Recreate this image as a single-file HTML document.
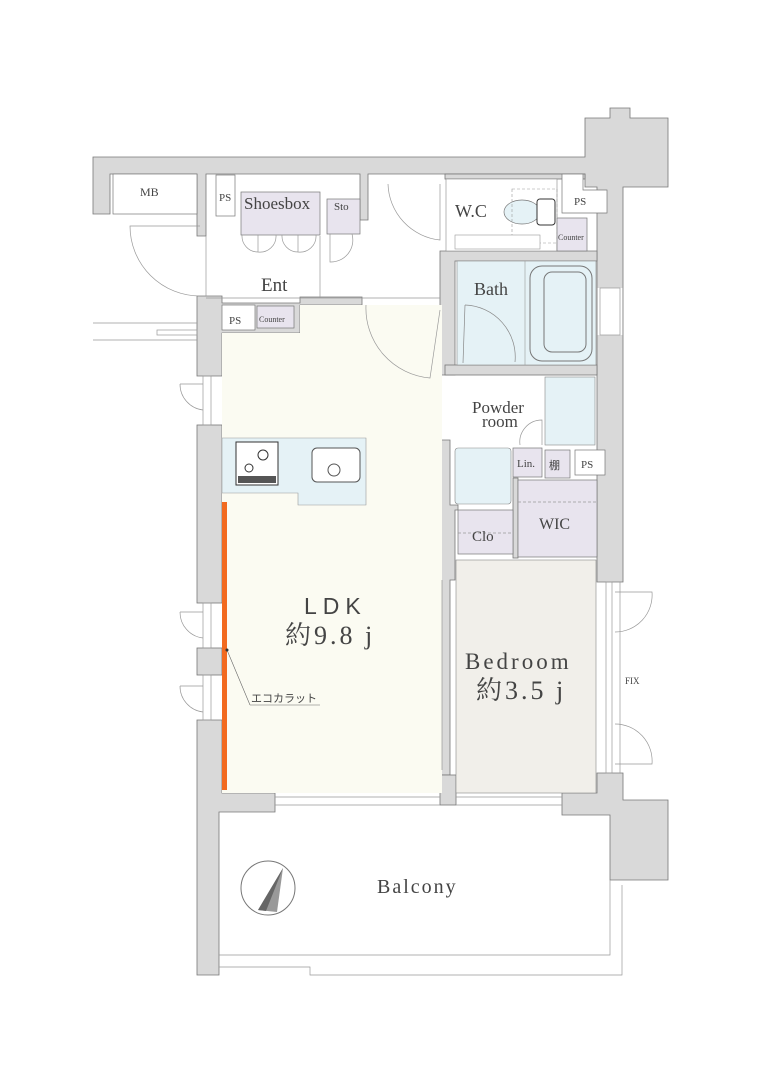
<!DOCTYPE html>
<html><head><meta charset="utf-8"><style>
html,body{margin:0;padding:0;background:#fff;}
svg{display:block;}
text{font-family:"Liberation Serif","Noto Serif CJK SC",serif;fill:#444;}
.s{font-family:"Liberation Sans","Noto Sans CJK JP",sans-serif;}
</style></head><body>
<svg width="768" height="1086" viewBox="0 0 768 1086" xmlns="http://www.w3.org/2000/svg">
<g stroke="#777" stroke-width="0.8">
<path d="M93 157 H585 V118 H610 V108 H630 V118 H668 V187 H623 V582 H597 V187 H585 V174 H368 V220 H360 V174 H206 V236 H197 V174 H110 V214 H93 Z" fill="#d9d9d9"/>
<rect x="445" y="174" width="140" height="5" fill="#d9d9d9"/>
<path d="M197 296 H222 V303 H300 V297 H362 V305 H300 V333 H222 V376 H197 Z" fill="#d9d9d9"/>
<rect x="197" y="425" width="25" height="178" fill="#d9d9d9"/>
<rect x="197" y="648" width="25" height="27" fill="#d9d9d9"/>
<path d="M197 720 H222 V793 H275 V812 H219 V975 H197 Z" fill="#d9d9d9"/>
<path d="M562 793 H597 V773 H623 V800 H668 V880 H610 V815 H562 Z" fill="#d9d9d9"/>
<path d="M440 251 H597 V261 H455 V375 H440 Z" fill="#d9d9d9"/>
<path d="M440 440 H450 V505 H458 V510 H455 V580 H450 V775 H440 Z" fill="#d9d9d9"/>
<rect x="513" y="478" width="5" height="80" fill="#d9d9d9"/>
<rect x="445" y="365" width="152" height="10" fill="#d9d9d9"/>
<rect x="440" y="775" width="16" height="30" fill="#d9d9d9"/>
</g>
<rect x="597.5" y="288" width="25" height="47" fill="#fff"/>
<rect x="222" y="333" width="220" height="460" fill="#fbfbf2"/>
<rect x="300" y="305" width="142" height="30" fill="#fbfbf2"/>
<rect x="456" y="560" width="140" height="233" fill="#f1efea" stroke="#888" stroke-width="0.6"/>
<rect x="457" y="261" width="139" height="104" fill="#e5f2f6" stroke="#888" stroke-width="0.6"/>
<rect x="446" y="179" width="111" height="72" fill="#fff" stroke="#888" stroke-width="0.6"/>
<rect x="545" y="377" width="50" height="68" fill="#e5f2f6" stroke="#888" stroke-width="0.6"/>
<rect x="455" y="448" width="56" height="56" fill="#e5f2f6" stroke="#888" stroke-width="0.6" rx="3"/>
<g fill="#e8e4ee" stroke="#777" stroke-width="0.7">
<rect x="241" y="192" width="79" height="43"/>
<rect x="327" y="199" width="33" height="35"/>
<rect x="557" y="218" width="30" height="33"/>
<rect x="257" y="306" width="37" height="22"/>
<rect x="513" y="448" width="29" height="29"/>
<rect x="545" y="450" width="25" height="28"/>
<rect x="518" y="480" width="79" height="77"/>
<rect x="458" y="510" width="55" height="44"/>
</g>
<g fill="#fff" stroke="#777" stroke-width="0.7">
<rect x="113" y="174" width="84" height="40"/>
<rect x="216" y="175" width="19" height="41"/>
<path d="M562 174 H583 V190 H607 V213 H562 Z"/>
<rect x="222" y="305" width="33" height="25"/>
<rect x="575" y="450" width="30" height="25"/>
</g>
<path d="M222 438 H366 V505 H298 V493 H222 Z" fill="#e5f2f6" stroke="#999" stroke-width="0.6"/>
<rect x="236" y="442" width="42" height="43" fill="#fff" stroke="#333" stroke-width="1"/>
<rect x="238" y="476" width="38" height="7" fill="#555"/>
<circle cx="263" cy="455" r="5" fill="none" stroke="#333"/>
<circle cx="249" cy="468" r="4" fill="none" stroke="#333"/>
<rect x="312" y="448" width="48" height="34" rx="5" fill="#fff" stroke="#555"/>
<circle cx="334" cy="470" r="6" fill="#fff" stroke="#555"/>
<rect x="530" y="266" width="62" height="95" rx="12" fill="#e5f2f6" stroke="#777"/>
<rect x="544" y="272" width="42" height="80" rx="8" fill="none" stroke="#777"/>
<line x1="525" y1="261" x2="525" y2="365" stroke="#999" stroke-width="0.6"/>
<path d="M465 305 A52 52 0 0 1 515 362" fill="none" stroke="#888" stroke-width="0.7"/>
<line x1="465" y1="305" x2="463" y2="363" stroke="#888" stroke-width="0.7"/>
<ellipse cx="522" cy="212" rx="18" ry="12" fill="#e5f2f6" stroke="#777" stroke-width="0.7"/>
<rect x="537" y="199" width="18" height="26" rx="3" fill="#fff" stroke="#333"/>
<rect x="512" y="189" width="45" height="54" fill="none" stroke="#999" stroke-dasharray="3,2" stroke-width="0.6"/>
<rect x="455" y="235" width="85" height="14" fill="#fff" stroke="#999" stroke-width="0.6"/>
<g stroke="#999" stroke-width="0.7" fill="none">
<rect x="203" y="376" width="8" height="49"/>
<rect x="203" y="603" width="8" height="45"/>
<rect x="203" y="675" width="8" height="45"/>
<rect x="600" y="288" width="20" height="47"/>
<rect x="606" y="582" width="6" height="191"/>
<line x1="620" y1="582" x2="620" y2="773"/>
<line x1="275" y1="797" x2="440" y2="797"/><line x1="275" y1="805" x2="440" y2="805"/>
<line x1="456" y1="797" x2="562" y2="797"/><line x1="456" y1="805" x2="562" y2="805"/>
<line x1="93" y1="323" x2="197" y2="323"/><line x1="93" y1="340" x2="197" y2="340"/>
<rect x="157" y="330" width="40" height="5"/>
<line x1="206" y1="236" x2="206" y2="296"/><line x1="320" y1="236" x2="320" y2="298"/>
<line x1="206" y1="298" x2="440" y2="298"/>
<path d="M200 296 A70 70 0 0 1 130 226 H200"/>
<path d="M180 384 A26 26 0 0 0 203 410 M180 384 H203"/>
<path d="M180 612 A26 26 0 0 0 203 638 M180 612 H203"/>
<path d="M180 686 A26 26 0 0 0 203 712 M180 686 H203"/>
<path d="M615 592 H652 A37 37 0 0 1 615 632"/>
<path d="M615 724 A37 37 0 0 1 652 764 H615"/>
<path d="M388 184 A58 58 0 0 0 440 240 V184"/>
<path d="M366 305 A70 70 0 0 0 430 378 L440 310"/>
<path d="M242 235 A16 16 0 0 0 258 252 V235 M258 252 A16 16 0 0 0 276 235 M282 235 A16 16 0 0 0 298 252 V235 M298 252 A16 16 0 0 0 316 235"/>
<path d="M330 234 V262 A22 22 0 0 0 352 234"/>
<path d="M520 445 A22 22 0 0 1 542 420 V445"/>
<line x1="458" y1="533" x2="513" y2="533" stroke-dasharray="3,2"/>
<line x1="518" y1="502" x2="597" y2="502" stroke-dasharray="3,2"/>
<line x1="442" y1="580" x2="442" y2="770"/>
<path d="M219 955 H610 V880 M219 967 H310 V975 H622 V885"/>
</g>
<rect x="222" y="502" width="5" height="288" fill="#f26a1f"/>
<line x1="227" y1="650" x2="250" y2="705" stroke="#666" stroke-width="0.6"/>
<line x1="250" y1="705" x2="320" y2="705" stroke="#666" stroke-width="0.6"/>
<circle cx="227" cy="650" r="1.5" fill="#333"/>
<circle cx="268" cy="888" r="27" fill="#fff" stroke="#777"/>
<path d="M283 868 L258 910 L277 912 Z" fill="#999"/>
<path d="M283 868 L258 910 L266 911 Z" fill="#666"/>
<text x="140" y="196" font-size="12">MB</text>
<text x="219" y="201" font-size="11">PS</text>
<text x="244" y="209" font-size="17">Shoesbox</text>
<text x="334" y="210" font-size="11">Sto</text>
<text x="455" y="217" font-size="18">W.C</text>
<text x="574" y="205" font-size="11">PS</text>
<text x="558" y="240" font-size="8">Counter</text>
<text x="261" y="291" font-size="19">Ent</text>
<text x="229" y="324" font-size="11">PS</text>
<text x="259" y="322" font-size="8">Counter</text>
<text x="474" y="295" font-size="18">Bath</text>
<text x="472" y="413" font-size="17">Powder</text>
<text x="482" y="427" font-size="17">room</text>
<text x="517" y="467" font-size="11">Lin.</text>
<text x="549" y="469" font-size="11" class="s">棚</text>
<text x="581" y="468" font-size="11">PS</text>
<text x="539" y="529" font-size="16">WIC</text>
<text x="472" y="541" font-size="15">Clo</text>
<text x="304" y="614" font-size="23" letter-spacing="6" class="s">LDK</text>
<text x="285" y="644" font-size="26" letter-spacing="3">約9.8 j</text>
<text x="465" y="669" font-size="23" letter-spacing="3">Bedroom</text>
<text x="476" y="699" font-size="26" letter-spacing="3">約3.5 j</text>
<text x="625" y="684" font-size="9">FIX</text>
<text x="251" y="702" font-size="11" class="s">エコカラット</text>
<text x="377" y="893" font-size="20" letter-spacing="2">Balcony</text>
</svg>
</body></html>
